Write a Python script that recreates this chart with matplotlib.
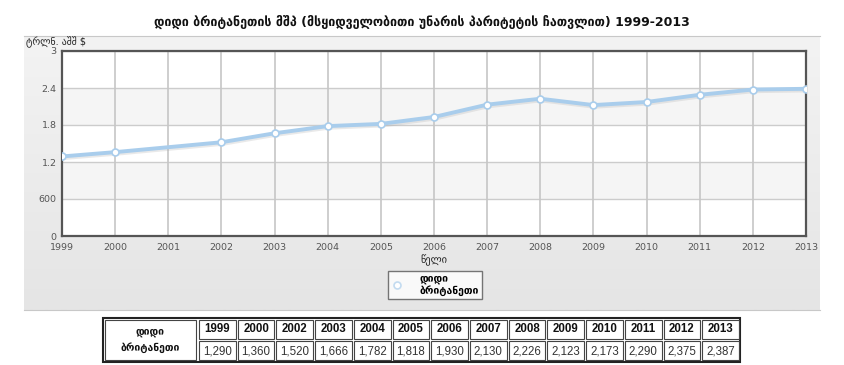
import matplotlib
matplotlib.use("Agg")
import matplotlib.pyplot as plt
import numpy as np
from matplotlib.patches import Rectangle
import matplotlib.patheffects as pe

plt.rcParams['font.family'] = ['DejaVu Sans']

title = "დიდი ბრიტანეთის მშპ (მსყიდველობითი უნარის პარიტეტის ჩათვლით) 1999-2013"
ylabel = "ტრლნ. აშშ $"
xlabel = "წელი"
series_name = "დიდი ბრიტანეთი"

axis_years = list(range(1999, 2014))
years = [1999, 2000, 2002, 2003, 2004, 2005, 2006, 2007, 2008, 2009, 2010, 2011, 2012, 2013]
values = [1290, 1360, 1520, 1666, 1782, 1818, 1930, 2130, 2226, 2123, 2173, 2290, 2375, 2387]
yticks = [0, 0.6, 1.2, 1.8, 2.4, 3.0]
ytick_labels = ["0", "600", "1.2", "1.8", "2.4", "3"]

W, H = 844, 365
fig = plt.figure(figsize=(W / 100, H / 100), dpi=100)
fig.patch.set_facecolor("white")

def fx(px):
    return px / W

def fy(py):
    return 1 - py / H

# background panel with gradient
bg = fig.add_axes([fx(24), fy(310), fx(820 - 24), (310 - 36) / H], zorder=0)
grad = np.linspace(0, 1, 100).reshape(-1, 1)
bg.imshow(grad, aspect="auto", cmap=matplotlib.colors.LinearSegmentedColormap.from_list("g", ["#f3f3f3", "#e5e5e5"]),
          extent=[0, 1, 0, 1], origin="upper")
bg.set_xlim(0, 1); bg.set_ylim(0, 1)
bg.set_xticks([]); bg.set_yticks([])
for s in ["left", "right"]:
    bg.spines[s].set_visible(False)
bg.spines["top"].set_color("#c8c8c8")
bg.spines["bottom"].set_color("#c8c8c8")

fig.text(0.5, fy(22), title, ha="center", va="center", fontsize=9, fontweight="bold", color="#111111")
fig.text(fx(26), fy(42), ylabel, ha="left", va="center", fontsize=7, color="#222222")

L, T, R, B = 62, 51, 806, 236
ax = fig.add_axes([fx(L), fy(B), fx(R - L), (B - T) / H], zorder=1)
ax.set_facecolor("white")
ax.set_xlim(1999, 2013)
ax.set_ylim(0, 3)
for i in range(len(yticks) - 1):
    if i % 2 == 1:
        ax.axhspan(yticks[i], yticks[i + 1], color="#f5f5f5", zorder=0, lw=0)
for y in yticks:
    ax.axhline(y, color="#cccccc", lw=1, zorder=1)
for x in axis_years:
    ax.axvline(x, color="#c6c6c6", lw=1.2, zorder=1)

vals_t = [v / 1000 for v in values]
ax.plot(years, vals_t, color="#a9cdec", lw=2.8, zorder=3, solid_capstyle="round",
        path_effects=[pe.SimpleLineShadow(offset=(0.6, -1.2), shadow_color="#aaaaaa", alpha=0.25), pe.Normal()])
ax.plot(years, vals_t, linestyle="none", marker="o", ms=5, mfc="white", mec="#a9cdec", mew=1.2, zorder=4)

ax.set_xticks(axis_years)
ax.set_xticklabels([str(y) for y in axis_years], fontsize=6.8, color="#555555")
ax.set_yticks(yticks)
ax.set_yticklabels(ytick_labels, fontsize=6.8, color="#555555")
ax.tick_params(axis="x", length=0, pad=5)
ax.tick_params(axis="y", length=0, pad=4)
for s in ax.spines.values():
    s.set_color("#555555")
    s.set_linewidth(1.6)
ax.set_xlabel(xlabel, fontsize=7.5, color="#222222", labelpad=2)

# legend
lg = ax.legend([matplotlib.lines.Line2D([], [], linestyle="none", marker="o", ms=5, mfc="white", mec="#c3dbf0", mew=1.2)],
               ["დიდი\nბრიტანეთი"], loc="center", bbox_to_anchor=((435 - L) / (R - L), (B - 285) / (B - T)),
               frameon=True, fancybox=False, prop={"size": 7.5, "weight": "bold"}, handletextpad=1.6,
               borderpad=0.25, handlelength=1.2, borderaxespad=0)
lg.get_frame().set_edgecolor("#555555")
lg.get_frame().set_linewidth(1)

# table
tL, tT, tR, tB = 103, 318, 740, 362
tab = fig.add_axes([fx(tL), fy(tB), fx(tR - tL), (tB - tT) / H], zorder=2)
tab.set_xlim(tL, tR)
tab.set_ylim(tB, tT)
tab.axis("off")
first_w = 95
ncol = len(years)
cw = (tR - tL - first_w) / ncol
mid = (tT + tB) / 2
tab.add_patch(Rectangle((tL, tT), tR - tL, tB - tT, fill=False, ec="#222222", lw=1.5, clip_on=False))
inset = 2
tab.add_patch(Rectangle((tL + inset, tT + inset), first_w - 2 * inset, tB - tT - 2 * inset, fill=False, ec="#444444", lw=0.8))
tab.text(tL + first_w / 2, mid, "დიდი\nბრიტანეთი", ha="center", va="center", fontsize=7.5, fontweight="bold",
         color="#111111", linespacing=1.5)
for i, (yr, v) in enumerate(zip(years, values)):
    x0 = tL + first_w + i * cw
    tab.add_patch(Rectangle((x0 + 1, tT + inset), cw - 2, mid - tT - inset - 1, fill=False, ec="#444444", lw=0.8))
    tab.add_patch(Rectangle((x0 + 1, mid + 1), cw - 2, tB - mid - inset - 1, fill=False, ec="#444444", lw=0.8))
    tab.text(x0 + cw / 2, (tT + mid) / 2 + 0.5, str(yr), ha="center", va="center", fontsize=8.3,
             fontweight="bold", family="Liberation Sans", color="#111111")
    tab.text(x0 + cw / 2, (mid + tB) / 2, f"{v:,}", ha="center", va="center", fontsize=8.3,
             family="Liberation Sans", color="#333333")

fig.savefig("out.png", dpi=100)
